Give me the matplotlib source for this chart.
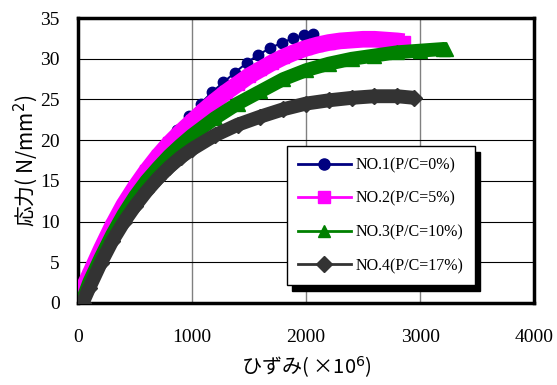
import numpy as np
import matplotlib
matplotlib.use('Agg')
import matplotlib.pyplot as plt
from matplotlib.lines import Line2D

# strain (x10^6) and stress (N/mm2)
x1 = [0, 100, 200, 300, 370, 470, 560, 665, 770, 870, 975, 1075, 1175, 1275, 1375, 1480, 1580, 1685, 1790, 1885, 1980, 2060]
y1 = [0.3, 3.6, 6.9, 9.8, 11.5, 13.8, 15.7, 17.7, 19.6, 21.3, 23.0, 24.5, 25.9, 27.1, 28.3, 29.5, 30.5, 31.3, 32.0, 32.5, 32.9, 33.0]

x2 = [0, 100, 200, 300, 400, 500, 600, 700, 800, 900, 1000, 1100, 1200, 1300, 1400, 1500, 1600, 1700, 1800, 1900, 2000,
      2100, 2200, 2300, 2400, 2500, 2600, 2700, 2800, 2860]
y2 = [0.4, 3.4, 6.5, 9.4, 12.0, 14.2, 16.2, 18.0, 19.6, 21.0, 22.3, 23.6, 24.8, 25.9, 26.9, 27.9, 28.7, 29.5, 30.2, 30.8, 31.3,
      31.7, 32.0, 32.2, 32.3, 32.4, 32.4, 32.3, 32.2, 32.1]

x3 = [30, 100, 200, 300, 400, 500, 600, 700, 800, 900, 1000, 1200, 1400, 1600, 1800, 2000, 2200, 2400, 2600, 2800, 3000, 3200, 3230]
y3 = [0.0, 2.6, 5.6, 8.4, 10.9, 13.1, 15.0, 16.6, 18.1, 19.4, 20.6, 22.7, 24.5, 26.0, 27.5, 28.6, 29.4, 30.0, 30.4, 30.8, 31.0, 31.2, 31.2]

x4 = [40, 100, 200, 300, 400, 500, 600, 700, 800, 900, 1000, 1200, 1400, 1600, 1800, 2000, 2200, 2400, 2600, 2800, 2950]
y4 = [0.0, 1.9, 4.9, 7.6, 9.9, 11.9, 13.7, 15.3, 16.7, 17.9, 18.9, 20.6, 21.9, 22.9, 23.8, 24.5, 24.9, 25.2, 25.4, 25.4, 25.2]

labels = ['NO.1(P/C=0%)', 'NO.2(P/C=5%)', 'NO.3(P/C=10%)', 'NO.4(P/C=17%)']
colors = ['#000080', '#FF00FF', '#008000', '#333333']
markers = ['o', 's', '^', 'D']

fig = plt.figure(figsize=(5.57, 3.85), dpi=100)
ax = fig.add_axes([0.140, 0.213, 0.819, 0.740])

ax.plot(x1, y1, color=colors[0], lw=1.5, marker='o', ms=7.5, zorder=3)
ax.plot(x2, y2, color=colors[1], lw=12, marker='s', ms=9, solid_capstyle='butt', zorder=4)
ax.plot(x3, y3, color=colors[2], lw=10, marker='^', ms=9.5, solid_capstyle='butt', zorder=5)
ax.plot(x4, y4, color=colors[3], lw=10, marker='D', ms=8, solid_capstyle='butt', zorder=6)

ax.set_xlim(0, 4000)
ax.set_ylim(0, 35)
ax.set_xticks([0, 1000, 2000, 3000, 4000])
ax.set_yticks(range(0, 36, 5))
ax.xaxis.grid(True, color='#808080', lw=1.0)
ax.yaxis.grid(True, color='black', lw=0.8)
ax.set_axisbelow(True)
ax.tick_params(length=0, labelsize=14)
ax.tick_params(axis='x', pad=19)
ax.tick_params(axis='y', pad=13)
for t in ax.get_xticklabels() + ax.get_yticklabels():
    t.set_fontfamily('Liberation Serif')
for s in ax.spines.values():
    s.set_linewidth(2.5)

ax.set_xlabel('ひずみ( ×10$^6$)', family=['Noto Sans CJK JP', 'DejaVu Sans'], fontsize=14.5, labelpad=6)
ax.set_ylabel('応力( N/mm$^2$)', family=['Noto Sans CJK JP', 'DejaVu Sans'], fontsize=15, labelpad=0)

handles = [Line2D([], [], color=c, marker=m, lw=2, ms=8) for c, m in zip(colors, markers)]
leg = ax.legend(handles, labels, loc='upper left', bbox_to_anchor=(0.458, 0.551), borderaxespad=0,
                prop={'family': 'Liberation Serif', 'size': 11.5},
                handlelength=3.3, handletextpad=0.3, labelspacing=1.1, borderpad=0.7,
                fancybox=False, edgecolor='black', framealpha=1,
                shadow={'ox': 4, 'oy': -4, 'color': 'black', 'alpha': 1})
leg.get_frame().set_linewidth(1.0)
leg.set_zorder(10)

fig.savefig('out.png', dpi=100)
